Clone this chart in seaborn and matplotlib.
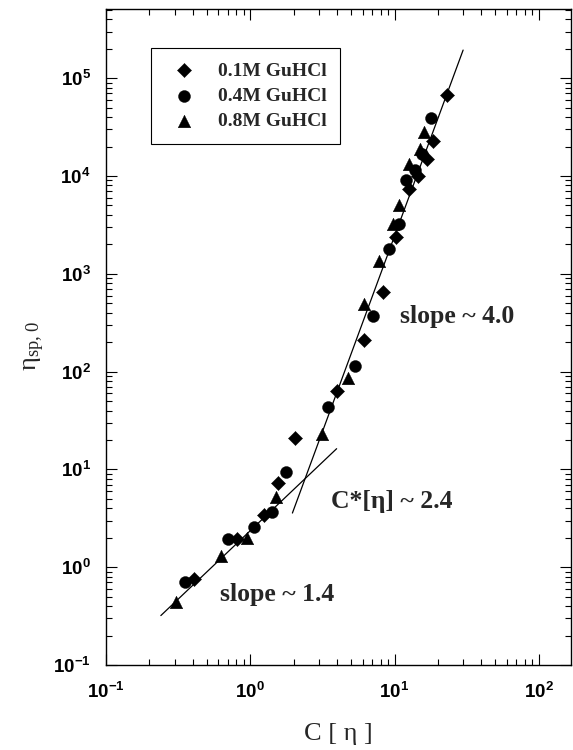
import numpy as np
import pandas as pd
import matplotlib
matplotlib.use("Agg")
import matplotlib.pyplot as plt
import seaborn as sns
from matplotlib.ticker import FixedLocator, LogLocator, FuncFormatter, NullFormatter

# Zero-shear specific viscosity vs reduced concentration C[eta]
# 0.1 M GuHCl
c_eta_01 = [0.41, 0.81, 1.24, 1.56, 2.03, 3.99, 6.1, 8.34, 10.3, 12.7, 14.6, 16.7, 18.6, 23.0]
eta_01 = [0.76, 1.95, 3.45, 7.2, 21.0, 63.0, 210.0, 650.0, 2380.0, 7400.0, 1.0e4, 1.5e4, 2.3e4, 6.8e4]
# 0.4 M GuHCl
c_eta_04 = [0.351, 0.705, 1.07, 1.42, 1.76, 3.47, 5.33, 7.1, 9.2, 10.8, 12.1, 13.8, 15.4, 18.0]
eta_04 = [0.71, 1.95, 2.6, 3.7, 9.5, 43.0, 114.0, 370.0, 1790.0, 3200.0, 9000.0, 1.14e4, 1.68e4, 3.9e4]
# 0.8 M GuHCl
c_eta_08 = [0.307, 0.63, 0.95, 1.52, 3.12, 4.74, 6.17, 7.85, 9.8, 10.8, 12.7, 15.0, 15.9]
eta_08 = [0.44, 1.30, 2.0, 5.25, 23.0, 87.0, 490.0, 1360.0, 3200.0, 5000.0, 1.33e4, 1.9e4, 2.8e4]

series_labels = ["0.1M GuHCl", "0.4M GuHCl", "0.8M GuHCl"]

# decade tick positions
x_decades = [0.1, 1, 10, 100]
y_decades = [0.1, 1, 10, 100, 1e3, 1e4, 1e5]

# Power-law fits meeting at the overlap concentration
overlap_c_eta = 2.4
overlap_eta = 8.05
dilute_slope = 1.4
semidilute_slope = 4.0
dilute_range = [0.24, 3.97]
semidilute_range = [1.96, 29.9]

sns.set_style("ticks")
plt.rcParams["font.family"] = ["Liberation Serif", "DejaVu Serif"]
plt.rcParams["mathtext.fontset"] = "custom"
plt.rcParams["mathtext.rm"] = "Liberation Serif"
plt.rcParams["mathtext.it"] = "Liberation Serif:italic"
plt.rcParams["mathtext.bf"] = "Liberation Sans:bold"

fig = plt.figure(figsize=(5.73, 7.5), dpi=100)
ax = fig.add_axes([0.185, 0.1133, 0.8113, 0.8747])

points = pd.DataFrame({
    "c_eta": c_eta_01 + c_eta_04 + c_eta_08,
    "eta": eta_01 + eta_04 + eta_08,
    "series": [series_labels[0]] * len(c_eta_01)
              + [series_labels[1]] * len(c_eta_04)
              + [series_labels[2]] * len(c_eta_08),
})

# fitted scaling lines
for rng, slope in [(dilute_range, dilute_slope), (semidilute_range, semidilute_slope)]:
    xs = np.array(rng)
    ys = overlap_eta * (xs / overlap_c_eta) ** slope
    sns.lineplot(x=xs, y=ys, color="black", linewidth=0.9, ax=ax, legend=False)

marker_specs = {
    series_labels[0]: ("D", 52),
    series_labels[1]: ("o", 74),
    series_labels[2]: ("^", 82),
}
for name in series_labels:
    sub = points[points["series"] == name]
    mk, size = marker_specs[name]
    sns.scatterplot(data=sub, x="c_eta", y="eta", marker=mk, s=size,
                    color="black", edgecolor="black", linewidth=0.3,
                    label=name, ax=ax, zorder=3)

ax.set_xscale("log")
ax.set_yscale("log")
ax.set_xlim(0.1, 167)
ax.set_ylim(0.1, 5.1e5)

decade_fmt = FuncFormatter(lambda v, p: r"$\mathbf{10^{%d}}$" % int(round(np.log10(v))))
for axis, decades in ((ax.xaxis, x_decades), (ax.yaxis, y_decades)):
    axis.set_major_locator(FixedLocator(decades))
    axis.set_minor_locator(LogLocator(base=10, subs=np.arange(2, 10), numticks=20))
    axis.set_minor_formatter(NullFormatter())
    axis.set_major_formatter(decade_fmt)

ax.tick_params(which="both", direction="in", top=True, right=True, width=0.8,
               labelsize=13.5, colors="black")
ax.tick_params(which="major", length=8)
ax.tick_params(axis="x", which="major", pad=12)
ax.tick_params(axis="y", which="major", pad=11)
ax.tick_params(which="minor", length=4.5)
for sp in ax.spines.values():
    sp.set_linewidth(1.0)
    sp.set_color("black")

ax.set_xlabel("C [ η ]", fontsize=19, labelpad=15)
ax.set_ylabel(r"η$_{\rm sp,\,0}$", fontsize=19)
ax.yaxis.set_label_coords(-0.128, 0.486)

ax.text(11.0, 369, "slope ~ 4.0", fontsize=18.5, fontweight="bold", va="center", ha="left")
ax.text(3.6, 4.7, "C*[η] ~ 2.4", fontsize=18.5, fontweight="bold", va="center", ha="left")
ax.text(0.62, 0.52, "slope ~ 1.4", fontsize=18.5, fontweight="bold", va="center", ha="left")

leg = ax.legend(loc="upper left", bbox_to_anchor=(0.096, 0.94), frameon=True,
                fancybox=False, framealpha=1, edgecolor="black",
                prop={"family": "Liberation Serif", "weight": "bold", "size": 14},
                handletextpad=0.75, labelspacing=0.4, borderpad=0.7,
                handlelength=2.0, borderaxespad=0)
leg.get_frame().set_linewidth(0.8)

fig.savefig("out.png", dpi=100)
